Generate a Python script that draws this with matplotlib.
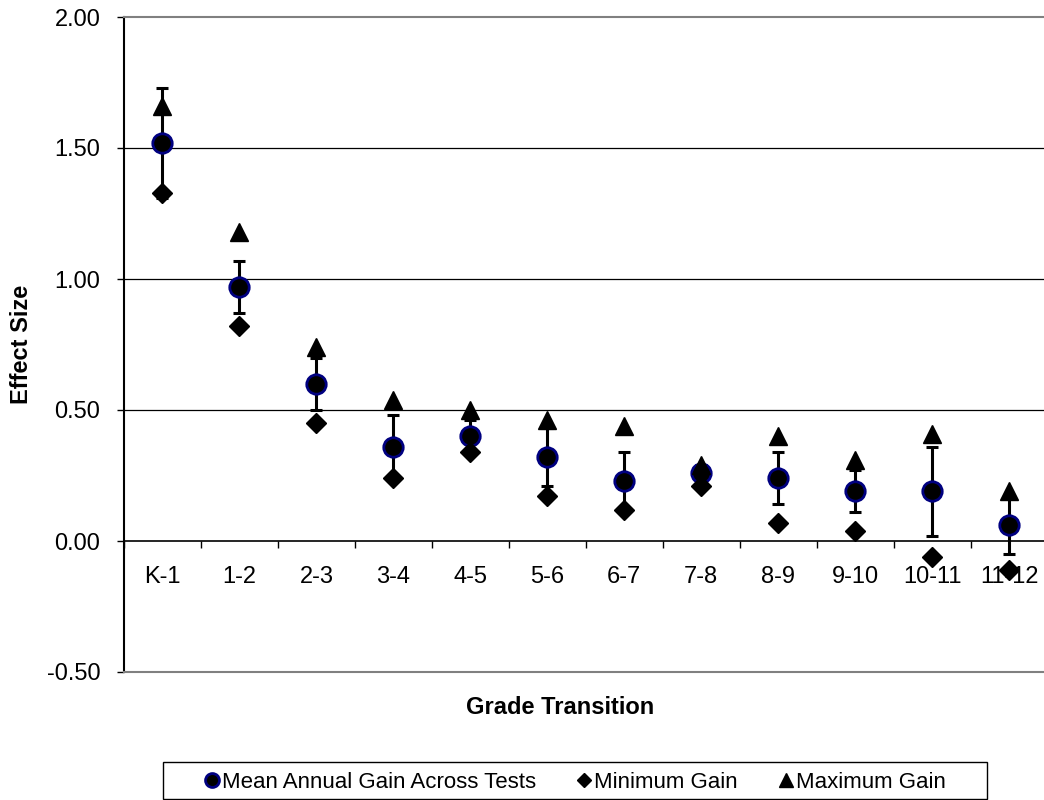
import numpy as np
import matplotlib
matplotlib.use("Agg")
import matplotlib.pyplot as plt
from matplotlib.ticker import FixedLocator
from matplotlib.lines import Line2D
from matplotlib.patches import Rectangle

plt.rcParams['font.family'] = ['Liberation Sans', 'DejaVu Sans']

# grade transitions and effect sizes
grades = ['K-1', '1-2', '2-3', '3-4', '4-5', '5-6', '6-7', '7-8', '8-9', '9-10', '10-11', '11-12']
mean_gain = [1.52, 0.97, 0.60, 0.36, 0.40, 0.32, 0.23, 0.26, 0.24, 0.19, 0.19, 0.06]
mean_err = [0.21, 0.10, 0.10, 0.12, 0.06, 0.11, 0.11, 0.03, 0.10, 0.08, 0.17, 0.11]
min_gain = [1.33, 0.82, 0.45, 0.24, 0.34, 0.17, 0.12, 0.21, 0.07, 0.04, -0.06, -0.11]
max_gain = [1.66, 1.18, 0.74, 0.54, 0.50, 0.46, 0.44, 0.29, 0.40, 0.31, 0.41, 0.19]
yticks = [-0.5, 0.0, 0.5, 1.0, 1.5, 2.0]

fig = plt.figure(figsize=(10.44, 8.0), dpi=100)
ax = fig.add_axes([124 / 1044, 1 - 672 / 800, 923.5 / 1044, 655 / 800])

# x axis sits at zero (set before tick styling, it resets the ticks)
ax.spines['bottom'].set_position(('data', 0))
ax.spines['bottom'].set_color('black')
ax.spines['bottom'].set_linewidth(1.2)
ax.spines['left'].set_color('black')
ax.spines['left'].set_linewidth(1.5)
for s in ['top', 'right']:
    ax.spines[s].set_color('#808080')
    ax.spines[s].set_linewidth(1.5)

x = np.arange(len(grades))

# gridlines
for yv in yticks[1:-1]:
    if yv != 0:
        ax.axhline(yv, color='black', lw=0.9, zorder=1)
ax.axhline(-0.5, color='#808080', lw=1.5, clip_on=False, zorder=6)

ax.errorbar(x, mean_gain, yerr=mean_err, fmt='none', ecolor='black',
            elinewidth=2.2, capsize=4.5, capthick=2.2, zorder=3)
ax.plot(x, mean_gain, linestyle='none', marker='o', markersize=14,
        markerfacecolor='black', markeredgecolor='#000080', markeredgewidth=2, zorder=4)
ax.plot(x, min_gain, linestyle='none', marker='D', markersize=10,
        color='black', zorder=5)
ax.plot(x, max_gain, linestyle='none', marker='^', markersize=13,
        color='black', zorder=5)

ax.set_xlim(-0.5, len(grades) - 0.5)
ax.set_ylim(-0.5, 2.0)

ax.set_yticks(yticks)
ax.set_yticklabels(['%.2f' % v for v in yticks], fontsize=17)
ax.tick_params(axis='y', direction='out', length=5, width=1, pad=12)

ax.set_xticks(x)
ax.set_xticklabels(grades, fontsize=17)
ax.xaxis.set_minor_locator(FixedLocator(np.arange(-0.5, len(grades), 1)))
ax.tick_params(axis='x', which='major', length=0, pad=18)
ax.tick_params(axis='x', which='minor', direction='out', length=5, width=1)

fig.text(22 / 1044, 1 - 344.5 / 800, 'Effect Size', rotation=90, fontsize=17,
         fontweight='bold', ha='center', va='center')
fig.text(560 / 1044, 1 - 708 / 800, 'Grade Transition', fontsize=17,
         fontweight='bold', ha='center', va='center')

# legend
handles = [
    Line2D([], [], linestyle='none', marker='o', markersize=10, markerfacecolor='black',
           markeredgecolor='#000080', markeredgewidth=2),
    Line2D([], [], linestyle='none', marker='D', markersize=7, color='black'),
    Line2D([], [], linestyle='none', marker='^', markersize=10, color='black'),
]
labels = ['Mean Annual Gain Across Tests', 'Minimum Gain', 'Maximum Gain']
fig.legend(handles, labels, loc='center left', bbox_to_anchor=(203 / 1044, 1 - 782 / 800),
           ncol=3, frameon=False, fontsize=16, handlelength=0.8, handletextpad=0.05,
           columnspacing=1.76, borderpad=0, borderaxespad=0)
fig.patches.append(Rectangle((163 / 1044, 1 - 799 / 800), 824 / 1044, 37 / 800,
                             transform=fig.transFigure, fill=False, edgecolor='black', lw=1))

fig.savefig('out.png', dpi=100)
